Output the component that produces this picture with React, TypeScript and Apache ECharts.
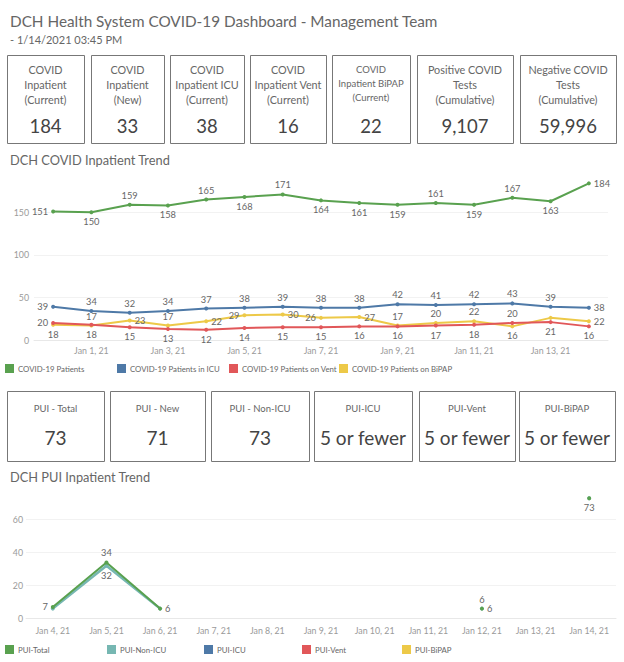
import React, { useEffect, useRef } from 'react';
import * as echarts from 'echarts';

// ---------- DATA ----------
const kpiLabels = [
  'COVID\nInpatient\n(Current)',
  'COVID\nInpatient\n(New)',
  'COVID\nInpatient ICU\n(Current)',
  'COVID\nInpatient Vent\n(Current)',
  'COVID\nInpatient BiPAP\n(Current)',
  'Positive COVID\nTests\n(Cumulative)',
  'Negative COVID\nTests\n(Cumulative)',
];
const kpiValues = ['184', '33', '38', '16', '22', '9,107', '59,996'];

const puiLabels = ['PUI - Total', 'PUI - New', 'PUI - Non-ICU', 'PUI-ICU', 'PUI-Vent', 'PUI-BiPAP'];
const puiValues = ['73', '71', '73', '5 or fewer', '5 or fewer', '5 or fewer'];

const trendDates = [
  'Dec 31, 20', 'Jan 1, 21', 'Jan 2, 21', 'Jan 3, 21', 'Jan 4, 21', 'Jan 5, 21', 'Jan 6, 21',
  'Jan 7, 21', 'Jan 8, 21', 'Jan 9, 21', 'Jan 10, 21', 'Jan 11, 21', 'Jan 12, 21', 'Jan 13, 21', 'Jan 14, 21',
];
const covidPatients = [151, 150, 159, 158, 165, 168, 171, 164, 161, 159, 161, 159, 167, 163, 184];
const covidICU = [39, 34, 32, 34, 37, 38, 39, 38, 38, 42, 41, 42, 43, 39, 38];
const covidVent = [20, 18, 15, 13, 12, 14, 15, 15, 16, 16, 17, 18, 20, 21, 16];
const covidBiPAP = [18, 17, 23, 17, 22, 29, 30, 26, 27, 17, 20, 22, 16, 26, 22];

const puiDates = [
  'Jan 4, 21', 'Jan 5, 21', 'Jan 6, 21', 'Jan 7, 21', 'Jan 8, 21', 'Jan 9, 21',
  'Jan 10, 21', 'Jan 11, 21', 'Jan 12, 21', 'Jan 13, 21', 'Jan 14, 21',
];
const puiTotal = [7, 34, 6, null, null, null, null, null, 6, null, 73];
const puiNonICU = [6, 32, 6, null, null, null, null, null, 6, null, 73];
const puiICU = [null, null, null, null, null, null, null, null, null, null, null];
const puiVent = [null, null, null, null, null, null, null, null, null, null, null];
const puiBiPAP = [null, null, null, null, null, null, null, null, null, null, null];

// ---------- STYLE / LAYOUT ----------
const FONT = 'Lato, "Open Sans", sans-serif';
const C = { green: '#59A14F', blue: '#4E79A7', red: '#E15759', yellow: '#EDC948', teal: '#76B7B2' };

const row1Boxes = [[7, 84], [91, 164], [170, 244], [250, 326], [332, 410], [417, 513], [520, 616]];
const row1Y = [55, 143];
const row2Boxes = [[7, 104], [110, 205], [211, 309], [314, 412], [419, 515], [519, 615]];
const row2Y = [391, 461];

const posGreen = ['left', 'bottom', 'top', 'bottom', 'top', 'bottom', 'top', 'bottom', 'bottom', 'bottom', 'top', 'bottom', 'top', 'bottom', 'right'];
const posBlue = ['left', 'top', 'top', 'top', 'top', 'top', 'top', 'top', 'top', 'top', 'top', 'top', 'top', 'top', 'right'];
const posRed = ['left', 'bottom', 'bottom', 'bottom', 'bottom', 'bottom', 'bottom', 'bottom', 'bottom', 'bottom', 'bottom', 'bottom', 'top', 'bottom', 'bottom'];
const posYellow = ['bottom', 'top', 'right', 'top', 'right', 'left', 'right', 'left', 'right', 'top', 'top', 'top', 'bottom', 'none', 'right'];
const posPuiTotal = ['left', 'top', 'right', 'none', 'none', 'none', 'none', 'none', 'top', 'none', 'bottom'];
const posPuiNonICU = ['none', 'bottom', 'none', 'none', 'none', 'none', 'none', 'none', 'right', 'none', 'none'];

function withLabels(values: (number | null)[], pos: string[]) {
  return values.map((v, i) =>
    v == null
      ? '-'
      : { value: v, label: pos[i] === 'none' ? { show: false } : { show: true, position: pos[i] } }
  );
}

function buildOption() {
  const graphics: any[] = [];
  graphics.push({
    type: 'text', left: 10, top: 13,
    style: { text: 'DCH Health System COVID-19 Dashboard - Management Team', fontSize: 15.3, fontFamily: FONT, fill: '#666' },
  });
  graphics.push({
    type: 'text', left: 10, top: 34,
    style: { text: '- 1/14/2021 03:45 PM', fontSize: 11, fontFamily: FONT, fill: '#666' },
  });
  graphics.push({
    type: 'text', left: 10, top: 153,
    style: { text: 'DCH COVID Inpatient Trend', fontSize: 12.8, fontFamily: FONT, fill: '#666' },
  });
  graphics.push({
    type: 'text', left: 10, top: 470,
    style: { text: 'DCH PUI Inpatient Trend', fontSize: 12.8, fontFamily: FONT, fill: '#666' },
  });

  row1Boxes.forEach(([x0, x1], i) => {
    const cx = (x0 + x1) / 2;
    graphics.push({
      type: 'rect', shape: { x: x0 + 0.5, y: row1Y[0] + 0.5, width: x1 - x0, height: row1Y[1] - row1Y[0] },
      style: { fill: '#fff', stroke: '#777', lineWidth: 1 },
    });
    const small = i === 4;
    graphics.push({
      type: 'text', x: cx, y: 62,
      style: {
        text: kpiLabels[i], fontSize: small ? 9.5 : 10.8, lineHeight: small ? 14 : 15, fontFamily: FONT,
        fill: '#666', align: 'center', verticalAlign: 'top',
      },
    });
    graphics.push({
      type: 'text', x: cx, y: 126,
      style: { text: kpiValues[i], fontSize: 18.5, fontFamily: FONT, fill: '#444', align: 'center', verticalAlign: 'middle' },
    });
  });

  row2Boxes.forEach(([x0, x1], i) => {
    const cx = (x0 + x1) / 2;
    graphics.push({
      type: 'rect', shape: { x: x0 + 0.5, y: row2Y[0] + 0.5, width: x1 - x0, height: row2Y[1] - row2Y[0] },
      style: { fill: '#fff', stroke: '#777', lineWidth: 1 },
    });
    graphics.push({
      type: 'text', x: cx, y: 408,
      style: { text: puiLabels[i], fontSize: 9.5, fontFamily: FONT, fill: '#666', align: 'center', verticalAlign: 'middle' },
    });
    graphics.push({
      type: 'text', x: cx, y: 437,
      style: { text: puiValues[i], fontSize: 19, fontFamily: FONT, fill: '#444', align: 'center', verticalAlign: 'middle' },
    });
  });

  const legendBase = {
    icon: 'rect', itemWidth: 9, itemHeight: 9, itemGap: 0, selectedMode: false,
    textStyle: { fontSize: 7.8, color: '#666', fontFamily: FONT, padding: [0, 0, 0, -1] },
  };
  const legends = [
    { name: 'COVID-19 Patients', left: 5, top: 364 },
    { name: 'COVID-19 Patients in ICU', left: 117, top: 364 },
    { name: 'COVID-19 Patients on Vent', left: 229, top: 364 },
    { name: 'COVID-19 Patients on BiPAP', left: 339, top: 364 },
    { name: 'PUI-Total', left: 5, top: 645 },
    { name: 'PUI-Non-ICU', left: 107, top: 645 },
    { name: 'PUI-ICU', left: 204, top: 645 },
    { name: 'PUI-Vent', left: 302, top: 645 },
    { name: 'PUI-BiPAP', left: 402, top: 645 },
  ].map((l) => ({ ...legendBase, data: [l.name], left: l.left, top: l.top, padding: 0 }));

  const labelBase = { show: true, fontSize: 9.3, color: '#666', fontFamily: FONT, distance: 3 };
  const axisLabelBase = { color: '#9a9a9a', fontSize: 8.8, fontFamily: FONT };

  const line = (name: string, color: string, data: any[], xi: number, width = 2, z = 2) => ({
    name, type: 'line', xAxisIndex: xi, yAxisIndex: xi, data, color,
    symbol: 'circle', symbolSize: 4, showSymbol: true, connectNulls: false,
    lineStyle: { width, color }, itemStyle: { color }, label: { ...labelBase }, z,
  });

  return {
    animation: false,
    backgroundColor: '#fff',
    graphic: graphics,
    legend: legends,
    grid: [
      { left: 34, right: 16, top: 174, bottom: 322 },
      { left: 26, right: 8, top: 490, bottom: 43.5 },
    ],
    xAxis: [
      {
        type: 'category', gridIndex: 0, data: trendDates, boundaryGap: true,
        axisLine: { show: true, lineStyle: { color: '#e8e8e8' } }, axisTick: { show: false },
        axisLabel: { ...axisLabelBase, margin: 6, interval: (i: number) => i % 2 === 1 },
      },
      {
        type: 'category', gridIndex: 1, data: puiDates, boundaryGap: true,
        axisLine: { show: true, lineStyle: { color: '#e8e8e8' } }, axisTick: { show: false },
        axisLabel: { ...axisLabelBase, margin: 7, interval: 0 },
      },
    ],
    yAxis: [
      {
        type: 'value', gridIndex: 0, min: 0, max: 195, interval: 50,
        axisLine: { show: false }, axisTick: { show: false },
        axisLabel: { ...axisLabelBase, margin: 5, showMaxLabel: false },
        splitLine: { lineStyle: { color: '#f2f2f2' }, showMaxLine: false },
      },
      {
        type: 'value', gridIndex: 1, min: 0, max: 78, interval: 20,
        axisLine: { show: false }, axisTick: { show: false },
        axisLabel: { ...axisLabelBase, margin: 3, showMaxLabel: false },
        splitLine: { lineStyle: { color: '#f2f2f2' }, showMaxLine: false },
      },
    ],
    series: [
      line('COVID-19 Patients', C.green, withLabels(covidPatients, posGreen), 0),
      line('COVID-19 Patients in ICU', C.blue, withLabels(covidICU, posBlue), 0),
      line('COVID-19 Patients on Vent', C.red, withLabels(covidVent, posRed), 0, 2, 3),
      line('COVID-19 Patients on BiPAP', C.yellow, withLabels(covidBiPAP, posYellow), 0),
      line('PUI-Non-ICU', C.teal, withLabels(puiNonICU, posPuiNonICU), 1, 2.5, 2),
      line('PUI-Total', C.green, withLabels(puiTotal, posPuiTotal), 1, 2, 3),
      line('PUI-ICU', C.blue, withLabels(puiICU, []), 1),
      line('PUI-Vent', C.red, withLabels(puiVent, []), 1),
      line('PUI-BiPAP', C.yellow, withLabels(puiBiPAP, []), 1),
    ],
  };
}

export default function App() {
  const ref = useRef<HTMLDivElement>(null);
  useEffect(() => {
    const chart = echarts.init(ref.current as HTMLDivElement, null, { renderer: 'svg' });
    chart.setOption(buildOption() as any);
    return () => chart.dispose();
  }, []);
  return (
    <div
      ref={ref}
      style={{ position: 'absolute', left: 0, top: 0, width: 624, height: 662, background: '#fff' }}
    />
  );
}
